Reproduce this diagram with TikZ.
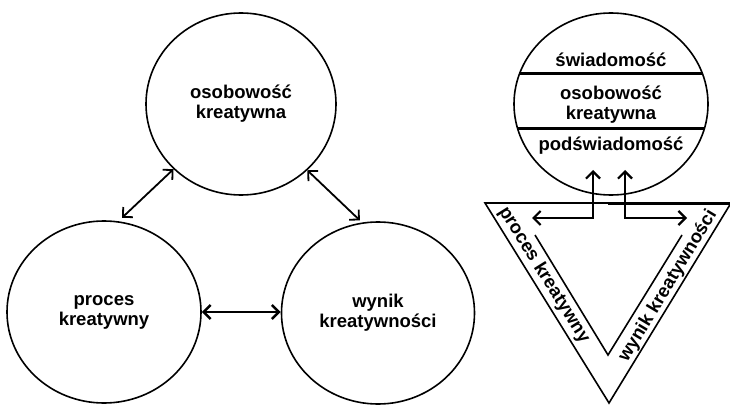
\documentclass[tikz,border=0pt]{standalone}
\usepackage{fontspec}
\setmainfont{Liberation Sans}
\usetikzlibrary{shapes.geometric,arrows.meta}
\begin{document}
\begin{tikzpicture}[x=1pt,y=-1pt,
  circ/.style={draw,ellipse,line width=1.6pt,inner sep=0pt,align=center,
    font=\bfseries\fontsize{18.5}{20}\selectfont},
  lbl/.style={inner sep=0pt,align=center,font=\bfseries\fontsize{18.5}{20}\selectfont},
  dbl/.style={line width=1.8pt,{Straight Barb[length=7pt,width=14pt]}-{Straight Barb[length=7pt,width=14pt]}},
  band/.style={line width=3pt},
  tri/.style={line width=1.6pt,line join=miter}]
\useasboundingbox (0,0) rectangle (730,406);
% left diagram
\node[circ,minimum width=190pt,minimum height=182pt] (pers) at (241,104) {osobowość\\kreatywna};
\node[circ,minimum width=194pt,minimum height=182pt] (proc) at (104,312) {proces\\kreatywny};
\node[circ,minimum width=193pt,minimum height=182pt] (wyn) at (378,313) {wynik\\kreatywności};
\draw[dbl,shorten >=5pt] (pers.224) -- (proc.81);
\draw[dbl,shorten >=3pt] (pers.315) -- (wyn.100);
\draw[dbl,line width=2.6pt] (proc.east) -- (proc.east -| wyn.west);
% right diagram
\node[circ,minimum width=194pt,minimum height=182pt] (mind) at (611,104) {};
\begin{scope}
  \clip (611,104) ellipse [x radius=97, y radius=91];
  \draw[band] (500,74) -- (720,74);
  \draw[band] (500,129) -- (720,129);
\end{scope}
\node[lbl] (swi) at (611,60) {świadomość};
\node[lbl] (oso) at (611,105) {osobowość\\kreatywna};
\node[lbl] (pod) at (611,146) {podświadomość};
% triangle
\coordinate (tl) at (485,203);
\coordinate (tr) at (731,203);
\coordinate (tb) at (609,403);
\draw[tri] (tl) -- (tr) -- (tb) -- cycle;
\coordinate (tm) at (608,203);
\draw[line width=3pt] (tm) -- (tr);
% inner V
\coordinate (vl) at (535,235);
\coordinate (vb) at (608,355);
\coordinate (vr) at (682,235);
\draw[tri] (vl) -- (vb) -- (vr);
% arrows
\coordinate (a1) at (593,170);
\coordinate (b1) at (593,218);
\coordinate (c1) at (532,218);
\coordinate (a2) at (625,170);
\coordinate (b2) at (625,218);
\coordinate (c2) at (687,218);
\draw[dbl,line width=2.2pt] (a1) -- (b1) -- (c1);
\draw[dbl,line width=2.2pt] (a2) -- (b2) -- (c2);
% rotated labels
\node[lbl,rotate=-58] (pk) at (544,275) {proces kreatywny};
\node[lbl,rotate=59] (wk) at (668,286) {wynik kreatywności};
\end{tikzpicture}
\end{document}
